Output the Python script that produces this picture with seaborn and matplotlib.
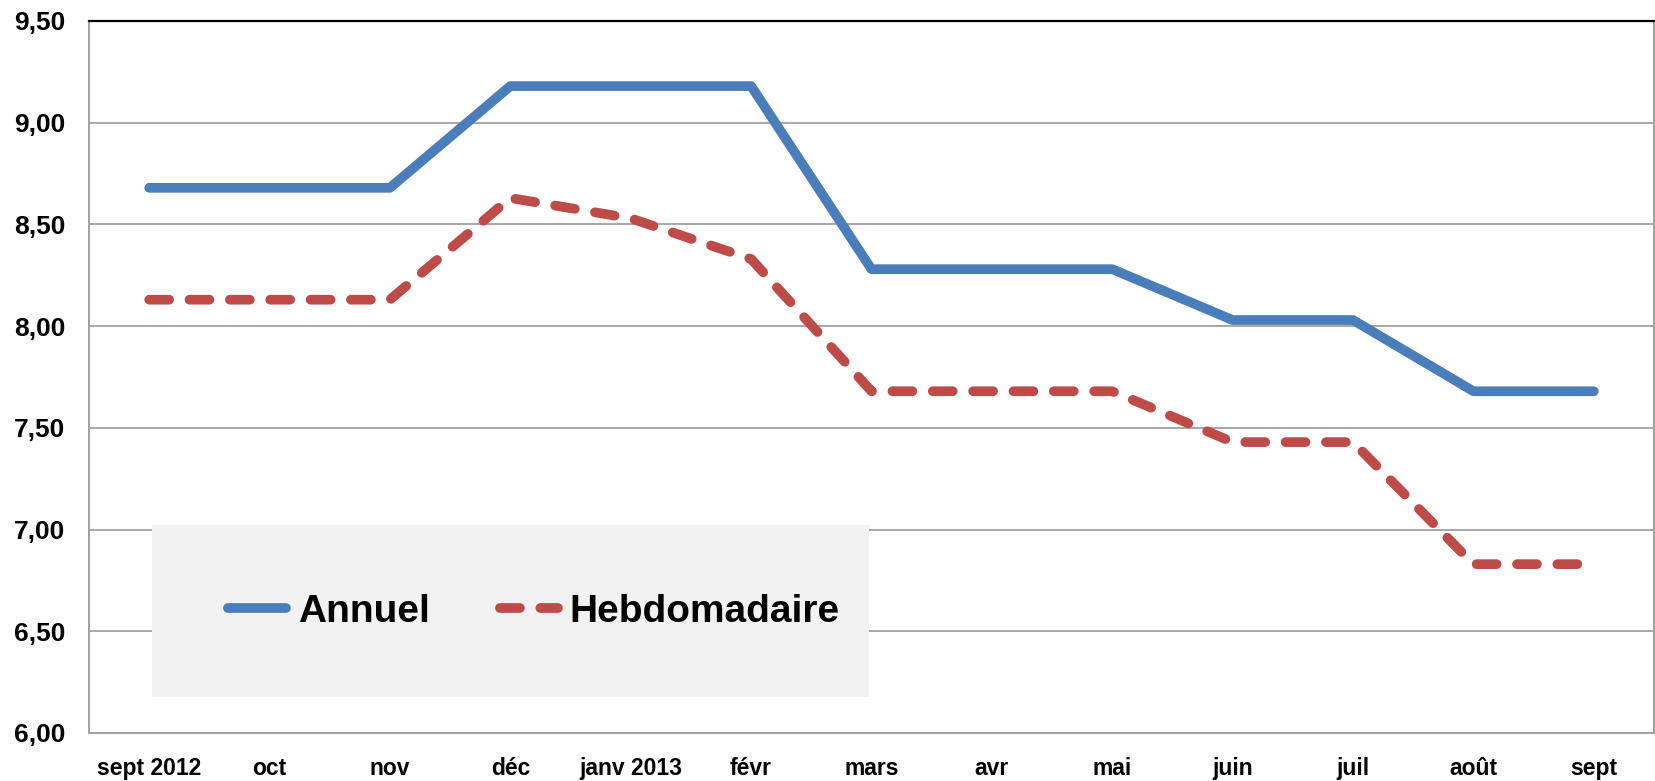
import numpy as np
import pandas as pd
import matplotlib
matplotlib.use("Agg")
import matplotlib.pyplot as plt
import seaborn as sns
from matplotlib import font_manager
from matplotlib.patches import Rectangle
from matplotlib.lines import Line2D

months = ["sept 2012", "oct", "nov", "déc", "janv 2013", "févr", "mars",
          "avr", "mai", "juin", "juil", "août", "sept"]
annuel = [8.68, 8.68, 8.68, 9.18, 9.18, 9.18, 8.28, 8.28, 8.28, 8.03, 8.03, 7.68, 7.68]
hebdo = [8.13, 8.13, 8.13, 8.63, 8.53, 8.33, 7.68, 7.68, 7.68, 7.43, 7.43, 6.83, 6.83]
yticks = [6.0, 6.5, 7.0, 7.5, 8.0, 8.5, 9.0, 9.5]
series_names = ["Annuel", "Hebdomadaire"]

avail = {f.name for f in font_manager.fontManager.ttflist}
fam = "Liberation Sans Narrow" if "Liberation Sans Narrow" in avail else "Liberation Sans"

sns.set_style("white")
plt.rcParams["font.family"] = [fam, "DejaVu Sans"]
plt.rcParams["font.weight"] = "bold"
plt.rcParams["text.color"] = "black"

BLUE = "#4a7ebb"
RED = "#be4b48"
GRID = "#a0a0a0"
LW = 7.0
DASH = (2.05, 2.1)

fig = plt.figure(figsize=(16.56, 7.81), dpi=100)
ax = fig.add_axes([89 / 1656, 1 - 733 / 781, 1565 / 1656, 712 / 781])

x = np.arange(len(months))
df = pd.DataFrame({"x": x, "Annuel": annuel, "Hebdomadaire": hebdo})

sns.lineplot(data=df, x="x", y="Annuel", ax=ax, color=BLUE, lw=LW,
             solid_capstyle="round", solid_joinstyle="round", zorder=5)
sns.lineplot(data=df, x="x", y="Hebdomadaire", ax=ax, color=RED, lw=LW,
             zorder=5)
red_line = ax.lines[-1]
red_line.set_dashes(DASH)
red_line.set_dash_capstyle("round")
red_line.set_dash_joinstyle("round")

ax.set_xlim(-0.5, len(months) - 0.5)
ax.set_ylim(6.0, 9.5)
ax.set_xlabel("")
ax.set_ylabel("")

ax.set_yticks(yticks)
ax.set_yticklabels([f"{v:.2f}".replace(".", ",") for v in yticks])
ax.set_xticks(x)
ax.set_xticklabels(months)
ax.set_xticks(np.arange(-0.5, len(months)), minor=True)
ax.tick_params(axis="x", which="major", length=0, pad=17, labelsize=16.5)
ax.tick_params(axis="x", which="minor", length=8, width=1.2, color=GRID, direction="out")
ax.tick_params(axis="y", which="major", length=8, width=1.2, color=GRID, direction="out",
               pad=9, labelsize=19)
for lab in ax.get_xticklabels() + ax.get_yticklabels():
    lab.set_fontweight("bold")
    lab.set_color("black")

for yv in yticks[1:-1]:
    ax.axhline(yv, color=GRID, lw=1.3, zorder=1)

for side in ["left", "bottom", "right"]:
    ax.spines[side].set_color(GRID)
    ax.spines[side].set_linewidth(1.4)
ax.spines["top"].set_color("black")
ax.spines["top"].set_linewidth(1.6)

# legend box
x0 = (152 - 89) / 1565
x1 = (869 - 89) / 1565
y0 = (733 - 697) / 712
y1 = (733 - 525) / 712
ax.add_patch(Rectangle((x0, y0), x1 - x0, y1 - y0, transform=ax.transAxes,
                       facecolor="#f2f2f2", edgecolor="none", zorder=3))

FS = 28
fs_px = FS * 100 / 72
handles = [
    Line2D([0], [0], color=BLUE, lw=LW, solid_capstyle="round"),
    Line2D([0], [0], color=RED, lw=LW, dashes=DASH, dash_capstyle="round"),
]
leg = ax.legend(handles, series_names, loc="center left",
                bbox_to_anchor=((228 - 89) / 1565, (733 - 612) / 712),
                ncol=2, frameon=False, borderpad=0, borderaxespad=0,
                handlelength=58 / fs_px, handletextpad=12 / fs_px,
                columnspacing=70 / fs_px, labelcolor="black",
                prop={"family": [fam, "DejaVu Sans"], "weight": "bold", "size": FS})
leg.set_zorder(6)

fig.savefig("out.png", dpi=100)
